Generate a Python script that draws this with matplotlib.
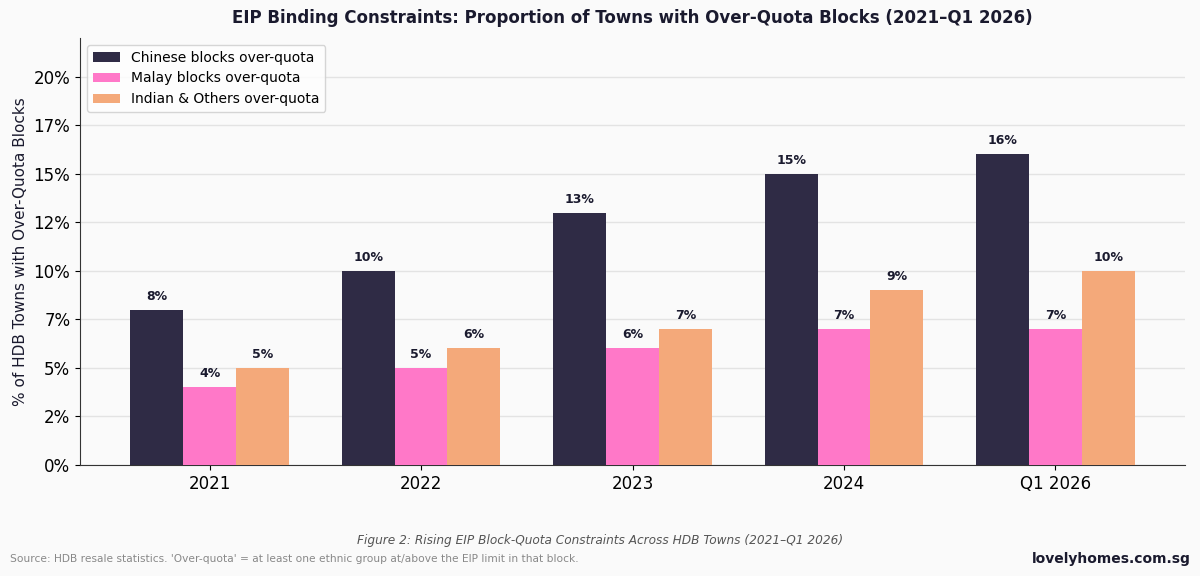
import numpy as np
import matplotlib.pyplot as plt
from matplotlib.ticker import FuncFormatter, MultipleLocator

periods = ["2021", "2022", "2023", "2024", "Q1 2026"]
chinese = [8, 10, 13, 15, 16]
malay = [4, 5, 6, 7, 7]
indian = [5, 6, 7, 9, 10]

series_names = ["Chinese blocks over-quota", "Malay blocks over-quota", "Indian & Others over-quota"]
colors = ["#2f2b45", "#ff78c8", "#f4a97a"]
navy = "#1a1a2e"

fig = plt.figure(figsize=(12, 5.76), dpi=100, facecolor="#fafafa")
ax = fig.add_axes([0.0667, 0.193, 0.9208, 0.741])
ax.set_facecolor("#fafafa")

x = np.arange(len(periods))
w = 0.25
for i, (vals, name, c) in enumerate(zip([chinese, malay, indian], series_names, colors)):
    bars = ax.bar(x + (i - 1) * w, vals, w, color=c, label=name, zorder=3)
    for b, v in zip(bars, vals):
        ax.annotate(f"{v}%", (b.get_x() + b.get_width() / 2, v), xytext=(0, 5),
                    textcoords="offset points", ha="center", va="bottom",
                    fontsize=9, fontweight="bold", color=navy)

ax.set_ylim(0, 22)
ax.yaxis.set_major_locator(MultipleLocator(2.5))
ax.yaxis.set_major_formatter(FuncFormatter(lambda v, p: f"{int(v)}%"))
ax.set_xticks(x)
ax.set_xticklabels(periods)
ax.tick_params(labelsize=12)
ax.grid(axis="y", color="#e3e3e3", linewidth=1, zorder=0)
ax.set_axisbelow(True)
for s in ["top", "right"]:
    ax.spines[s].set_visible(False)
ax.spines["left"].set_color("#333333")
ax.spines["bottom"].set_color("#333333")

ax.set_ylabel("% of HDB Towns with Over-Quota Blocks", fontsize=11, color=navy)
ax.legend(loc="upper left", fontsize=10, frameon=True, facecolor="white", edgecolor="#cccccc")

# title is centred over the axes, not the figure
fig.text(0.527, 0.968, "EIP Binding Constraints: Proportion of Towns with Over-Quota Blocks (2021\u2013Q1 2026)",
         ha="center", va="center", fontsize=12, fontweight="bold", color=navy)
fig.text(0.5, 0.061, "Figure 2: Rising EIP Block-Quota Constraints Across HDB Towns (2021\u2013Q1 2026)",
         ha="center", va="center", fontsize=8.7, style="italic", color="#555555")
fig.text(0.008, 0.03, "Source: HDB resale statistics. 'Over-quota' = at least one ethnic group at/above the EIP limit in that block.",
         ha="left", va="center", fontsize=7.7, color="#888888")
fig.text(0.992, 0.03, "lovelyhomes.com.sg", ha="right", va="center", fontsize=10,
         fontweight="bold", color=navy)

fig.savefig("out.png", dpi=100, facecolor=fig.get_facecolor())
